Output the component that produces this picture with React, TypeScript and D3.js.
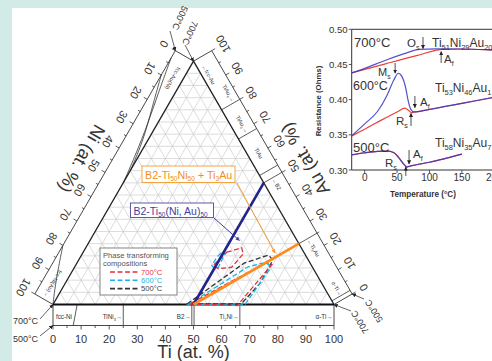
import * as d3 from "d3";

const FONT = "'Liberation Sans', Arial, Helvetica, sans-serif";

// ---------- ternary Ti-Ni-Au diagram, values in at. % ----------
const axisTicks = d3.range(0, 101, 10);
const minorTicks = d3.range(0, 101, 5);
const gridLevels = d3.range(5, 100, 5);

// [Ti, Au] pairs (Ni = 100 - Ti - Au)
const b2Line: [number, number][] = [[50, 0], [50, 50]];
const tieLine: [number, number][] = [[50, 0], [75, 25]];

const zone700a: [number, number][] = [[51.1, 21.5], [55.5, 23.3], [57.3, 20.8], [55.9, 15.3], [51.5, 14.7], [49.0, 16.0], [50.3, 19.4]];
const zone700b: [number, number][] = [[48.5, 0.2], [65.8, -0.4], [69.7, 16.4], [67.2, 17.2]];
const zone600a: [number, number][] = [[49.3, 21.5], [50.8, 20.8], [51.0, 18.1], [51.2, 15.3], [50.3, 14.7], [48.5, 16.0], [48.6, 19.4]];
const zone600b: [number, number][] = [[48.1, 0], [61.7, 15.5], [66.0, 17.0], [68.5, 16.5], [69.9, 14.7], [68.3, -0.2]];
const zone500b: [number, number][] = [[47.6, 0.2], [59.5, 17.0], [66.5, 20.3], [69.1, 18.3], [69.3, 8.7], [66.9, 0.3]];

// phase boundaries drawn in the isotherm strips (at. %)
const tiBounds = [25, 49.4, 50.2, 66.5];
const fccNiBound: [number, number][] = [[8.6, 0], [7.2, 1]]; // [Ti, strip fraction]
const auBounds = [80, 68, 53, 50, 25, 1.5];
const niSolvusA: [number, number][] = [[3, 1], [15, 0.72], [27, 0.4], [40, 0.14], [50, 0]];
const niSolvusB: [number, number][] = [[10, 1], [20, 0.66], [30, 0.3], [38, 0.1], [45, 0]];
const niFccBound: [number, number][] = [[80, 1], [90, 0.55], [97, 0.18], [100, 0]];

const bottomLabels = [
  { t: "fcc-Ni", v: 3.9, a: "middle" },
  { t: "TiNi{3}→", v: 24.6, a: "end" },
  { t: "B2→", v: 49.0, a: "end" },
  { t: "Ti{2}Ni→", v: 66.1, a: "end" },
  { t: "α-Ti→", v: 99.5, a: "end" },
];
const rightLabels = [
  { t: "←fcc-Au", v: 97, f: 0.3, a: "start" },
  { t: "TiAu{4}→", v: 80.6, f: 0.68, a: "end" },
  { t: "TiAu{2}→", v: 68.6, f: 0.5, a: "end" },
  { t: "TiAu", v: 60, f: 0.5, a: "middle" },
  { t: "←B2", v: 49.4, f: 0.5, a: "start" },
  { t: "←Ti{3}Au", v: 24.4, f: 0.5, a: "start" },
  { t: "α-Ti→", v: 1.8, f: 0.5, a: "end" },
];
const leftLabels = [
  { t: "fcc-Au(Ni)", v: 9, f: 0.45, a: "middle" },
  { t: "fcc-Ni(Au)→", v: 99, f: 0.5, a: "end" },
];

// ---------- inset: resistance vs temperature ----------
const r700Blue: [number, number][] = [[-20, 0.438], [0, 0.4445], [33.5, 0.4564], [60, 0.465], [85, 0.4716], [110, 0.4722], [150, 0.472], [200, 0.4705], [240, 0.469]];
const r700Red: [number, number][] = [[-20, 0.438], [33.5, 0.4513], [80, 0.4625], [120.8, 0.4716], [150, 0.472], [200, 0.4705], [240, 0.469]];
const r600Blue: [number, number][] = [[-20, 0.3485], [0, 0.3655], [20, 0.3835], [35, 0.407], [45, 0.428], [52, 0.4375], [58, 0.432], [63, 0.418], [67, 0.399], [71, 0.3865], [76, 0.3825], [100, 0.3862], [150, 0.3948], [200, 0.4035], [240, 0.41]];
const r600Red: [number, number][] = [[-20, 0.3485], [0, 0.358], [25, 0.3705], [50, 0.3825], [62, 0.388], [68, 0.3845], [72, 0.3815], [76, 0.3822], [100, 0.386], [150, 0.3946], [200, 0.4033], [240, 0.41]];
const r500Blue: [number, number][] = [[-20, 0.3215], [0, 0.3245], [20, 0.3266], [35, 0.327], [45, 0.3245], [52, 0.318], [58, 0.3105], [62, 0.3065], [65, 0.3042], [70, 0.3055], [80, 0.3075], [100, 0.311], [125, 0.3165], [150, 0.3225]];
const r500Red: [number, number][] = [[-20, 0.3215], [0, 0.3243], [20, 0.3264], [35, 0.3268], [45, 0.3248], [52, 0.3188], [58, 0.3112], [62, 0.307], [65, 0.3045], [70, 0.3056], [80, 0.3075], [100, 0.311], [125, 0.3165], [150, 0.3225]];
const insetYTicks = [0.3, 0.35, 0.4, 0.45, 0.5];
const insetXTicks = [0, 50, 100, 150, 200];

// geometry
const SQ = Math.sqrt(3) / 2;
const SIDE = 281;
const STRIP = 21;
const LABEL = 34;
const tx = d3.scaleLinear([0, 100], [53, 53 + SIDE]);
const ty = d3.scaleLinear([0, 100], [304.5, 304.5 - SIDE * SQ]);
const proj = (ti: number, au: number): [number, number] => [tx(ti + au / 2), ty(au)];

const sides: Record<string, { at: (v: number) => [number, number]; n: [number, number]; rot: number }> = {
  bottom: { at: (v) => proj(v, 0), n: [0, 1], rot: 0 },
  left: { at: (v) => proj(0, 100 - v), n: [-SQ, -0.5], rot: 120 },
  right: { at: (v) => proj(100 - v, v), n: [SQ, -0.5], rot: -120 },
};
const sp = (s: string, v: number, d: number): [number, number] => {
  const [x, y] = sides[s].at(v);
  const [nx, ny] = sides[s].n;
  return [x + nx * d, y + ny * d];
};
const stripLine = d3.line<[number, number]>().curve(d3.curveBasis);

const ix = d3.scaleLinear([-20, 250], [351.7, 526.7]);
const iy = d3.scaleLinear([0.3, 0.5], [170, 29.3]);
const rLine = d3
  .line<[number, number]>()
  .x((d) => ix(d[0]))
  .y((d) => iy(d[1]))
  .curve(d3.curveMonotoneX);

const zonePath = (pts: [number, number][]) => d3.line()(pts.map(([t, a]) => proj(t, a))) + "Z";

function Chem({ x, y, text, size, fill = "#333", anchor = "start", transform, weight }: any) {
  const parts = text.split(/(\{[^}]*\})/).filter(Boolean);
  let sub = false;
  const kids = parts.map((p: string, i: number) => {
    const isSub = p.startsWith("{");
    const shift = size * 0.28;
    const dy = isSub && !sub ? shift : !isSub && sub ? -shift : 0;
    sub = isSub;
    return (
      <tspan key={i} dy={dy} fontSize={isSub ? size * 0.62 : size}>
        {isSub ? p.slice(1, -1) : p}
      </tspan>
    );
  });
  return (
    <text x={x} y={y} fontSize={size} fill={fill} textAnchor={anchor} transform={transform} fontWeight={weight}>
      {kids}
    </text>
  );
}

function Arrow({ from, to, color = "#222", w = 0.8, id = "ahK" }: any) {
  return <line x1={from[0]} y1={from[1]} x2={to[0]} y2={to[1]} stroke={color} strokeWidth={w} markerEnd={`url(#${id})`} />;
}

function SideAxis({ s }: { s: string }) {
  const [a0, a1] = [sp(s, 0, STRIP), sp(s, 100, STRIP)];
  const rot = sides[s].rot;
  return (
    <g>
      <line x1={a0[0]} y1={a0[1]} x2={a1[0]} y2={a1[1]} stroke="#333" strokeWidth={0.9} />
      {[0, 100].map((v) => {
        const p = sp(s, v, 0);
        const q = sp(s, v, STRIP);
        return <line key={v} x1={p[0]} y1={p[1]} x2={q[0]} y2={q[1]} stroke="#333" strokeWidth={0.9} />;
      })}
      {minorTicks.map((v) => {
        const p = sp(s, v, STRIP);
        const q = sp(s, v, STRIP + (v % 10 === 0 ? 4 : 2.5));
        return <line key={v} x1={p[0]} y1={p[1]} x2={q[0]} y2={q[1]} stroke="#333" strokeWidth={0.8} />;
      })}
      {axisTicks.map((v) => {
        const p = sp(s, v, LABEL);
        return (
          <text key={v} x={p[0]} y={p[1]} fontSize={11} fill="#333" textAnchor="middle" dominantBaseline="central"
            transform={`rotate(${rot},${p[0]},${p[1]})`}>
            {v}
          </text>
        );
      })}
    </g>
  );
}

export default function App() {
  const apex = proj(0, 100);
  const bl = proj(0, 0);
  const br = proj(100, 0);
  const grid: [number, number][][] = [];
  gridLevels.forEach((v) => {
    grid.push([proj(0, v), proj(100 - v, v)]);
    grid.push([proj(v, 0), proj(v, 100 - v)]);
    grid.push([proj(100 - v, 0), proj(0, 100 - v)]);
  });
  const niTitle = sp("left", 50, 48);
  const auTitle = sp("right", 50, 48);

  return (
    <svg width={492} height={361} style={{ position: "absolute", left: 0, top: 0 }} fontFamily={FONT}>
      <defs>
        {[
          ["ahK", "#222"],
          ["ahO", "#f39a2e"],
          ["ahB", "#3a3a9a"],
        ].map(([id, c]) => (
          <marker key={id} id={id} viewBox="0 0 6 6" refX={5.5} refY={3} markerWidth={4} markerHeight={4} markerUnits="userSpaceOnUse" orient="auto">
            <path d="M0,0L6,3L0,6z" fill={c} />
          </marker>
        ))}
      </defs>
      <rect width={492} height={361} fill="#d3ebe6" />
      <rect x={12} y={8} width={480} height={353} fill="#fff" />

      {/* grid */}
      <g stroke="#cdcdcd" strokeWidth={0.7}>
        {grid.map((g, i) => (
          <line key={i} x1={g[0][0]} y1={g[0][1]} x2={g[1][0]} y2={g[1][1]} />
        ))}
      </g>

      {/* isotherm strips + axes */}
      <SideAxis s="bottom" />
      <SideAxis s="left" />
      <SideAxis s="right" />
      <g stroke="#333" strokeWidth={0.8} fill="none">
        {tiBounds.map((v) => {
          const p = sp("bottom", v, 0);
          const q = sp("bottom", v, STRIP);
          return <line key={v} x1={p[0]} y1={p[1]} x2={q[0]} y2={q[1]} />;
        })}
        <path d={stripLine(fccNiBound.map(([v, f]) => sp("bottom", v, f * STRIP)))!} />
        {auBounds.map((v) => {
          const p = sp("right", v, 0);
          const q = sp("right", v, STRIP);
          return <line key={v} x1={p[0]} y1={p[1]} x2={q[0]} y2={q[1]} />;
        })}
        {[niSolvusA, niSolvusB, niFccBound].map((c, i) => (
          <path key={i} d={stripLine(c.map(([v, f]) => sp("left", v, f * STRIP)))!} />
        ))}
      </g>
      {bottomLabels.map((l) => {
        const p = sp("bottom", l.v, 12.5);
        return <Chem key={l.t} x={p[0]} y={p[1] + 2} text={l.t} size={6.3} anchor={l.a} />;
      })}
      {rightLabels.map((l) => {
        const p = sp("right", l.v, l.f * STRIP);
        return <Chem key={l.t} x={p[0]} y={p[1]} text={l.t} size={5.6} anchor={l.a} transform={`rotate(60,${p[0]},${p[1]}) translate(0,2)`} />;
      })}
      {leftLabels.map((l) => {
        const p = sp("left", l.v, l.f * STRIP);
        return <Chem key={l.t} x={p[0]} y={p[1]} text={l.t} size={5.6} anchor={l.a} transform={`rotate(120,${p[0]},${p[1]}) translate(0,2)`} />;
      })}

      {/* triangle frame */}
      <path d={`M${bl}L${apex}L${br}`} fill="none" stroke="#222" strokeWidth={1.3} />
      <line x1={bl[0]} y1={bl[1]} x2={br[0]} y2={br[1]} stroke="#111" strokeWidth={2} />

      {/* axis titles */}
      <text x={niTitle[0]} y={niTitle[1]} fontSize={18} fill="#333" textAnchor="middle" dominantBaseline="central"
        transform={`rotate(120,${niTitle[0]},${niTitle[1]})`}>Ni (at. %)</text>
      <text x={auTitle[0]} y={auTitle[1]} fontSize={18} fill="#333" textAnchor="middle" dominantBaseline="central"
        transform={`rotate(-120,${auTitle[0]},${auTitle[1]})`}>Au (at. %)</text>
      <text x={tx(50)} y={358} fontSize={18} fill="#333" textAnchor="middle">Ti (at. %)</text>

      {/* corner isotherm labels */}
      <g fontSize={9} fill="#333">
        <text x={13} y={324}>700°C</text>
        <text x={13} y={342}>500°C</text>
        <text x={180} y={18} textAnchor="middle" dominantBaseline="central" transform="rotate(115,180,18)">500°C</text>
        <text x={190} y={33} textAnchor="middle" dominantBaseline="central" transform="rotate(115,190,33)">700°C</text>
        <text x={374} y={311} textAnchor="middle" dominantBaseline="central" transform="rotate(-122,374,311)">500°C</text>
        <text x={360} y={322} textAnchor="middle" dominantBaseline="central" transform="rotate(-122,360,322)">700°C</text>
      </g>
      <Arrow from={[40, 319]} to={sp("bottom", 0, 0)} w={0.7} />
      <Arrow from={[40, 336]} to={sp("bottom", 0, STRIP)} w={0.7} />
      <Arrow from={[185, 45]} to={apex} w={0.7} />
      <Arrow from={[170, 31]} to={sp("left", 0, STRIP)} w={0.7} />
      <Arrow from={[364, 299]} to={sp("right", 0, STRIP)} w={0.7} />
      <Arrow from={[351, 311]} to={br} w={0.7} />

      {/* phase transforming composition zones */}
      <g fill="none" strokeWidth={1.3} strokeDasharray="5 2.5">
        <path d={zonePath(zone500b)} stroke="#333" />
        <path d={zonePath(zone600a)} stroke="#19b5e6" />
        <path d={zonePath(zone600b)} stroke="#19b5e6" />
        <path d={zonePath(zone700a)} stroke="#e5303f" />
        <path d={zonePath(zone700b)} stroke="#e5303f" />
      </g>

      {/* B2 and B2 + Ti3Au lines */}
      <path d={d3.line()(b2Line.map(([t, a]) => proj(t, a)))!} stroke="#23238c" strokeWidth={2.6} />
      <path d={d3.line()(tieLine.map(([t, a]) => proj(t, a)))!} stroke="#ff8a1c" strokeWidth={2.6} />

      {/* annotation boxes */}
      <rect x={142} y={166} width={93} height={16.5} fill="#fff" stroke="#f39a2e" strokeWidth={0.9} />
      <Chem x={145} y={178.5} text="B2-Ti{50}Ni{50} + Ti{3}Au" size={10.7} fill="#ef8f22" />
      <Arrow from={[237, 183]} to={proj(68.4, 21.2)} color="#f39a2e" w={1} id="ahO" />
      <rect x={130.5} y={203} width={83} height={14.5} fill="#fff" stroke="#4a4aa0" strokeWidth={0.9} />
      <Chem x={133.5} y={214.5} text="B2-Ti{50}(Ni, Au){50}" size={10.5} fill="#3f3f9c" />
      <Arrow from={[214, 218]} to={proj(53.2, 26.3)} color="#3a3a9a" w={1} id="ahB" />

      {/* legend */}
      <rect x={100} y={248} width={77} height={47} fill="#fff" stroke="#666" strokeWidth={0.8} />
      <text x={103} y={257.5} fontSize={7.6} fill="#555">Phase transforming</text>
      <text x={103} y={266} fontSize={7.6} fill="#555">compositions</text>
      {[
        ["700°C", "#e5303f"],
        ["600°C", "#19b5e6"],
        ["500°C", "#333"],
      ].map(([t, c], i) => (
        <g key={t}>
          <line x1={110} x2={140} y1={272 + i * 8.3} y2={272 + i * 8.3} stroke={c} strokeWidth={1.6} strokeDasharray="5 2.5" />
          <text x={141} y={274.8 + i * 8.3} fontSize={7.6} fill={c === "#333" ? "#444" : c}>{t}</text>
        </g>
      ))}

      {/* ---------- inset ---------- */}
      <g>
        <path d={`M492,${iy(0.5)}H${ix(-20)}V${iy(0.3)}H492`} fill="none" stroke="#333" strokeWidth={1} />
        {insetYTicks.map((v) => (
          <g key={v}>
            <line x1={ix(-20) - 3} x2={ix(-20)} y1={iy(v)} y2={iy(v)} stroke="#333" strokeWidth={0.8} />
            <text x={ix(-20) - 4} y={iy(v)} fontSize={9.6} fill="#333" textAnchor="end" dominantBaseline="central">
              {v.toFixed(2)}
            </text>
          </g>
        ))}
        {insetXTicks.map((v) => (
          <g key={v}>
            <line x1={ix(v)} x2={ix(v)} y1={iy(0.3)} y2={iy(0.3) + 3} stroke="#333" strokeWidth={0.8} />
            <text x={ix(v)} y={iy(0.3) + 11} fontSize={10} fill="#333" textAnchor="middle">{v}</text>
          </g>
        ))}
        <text x={318} y={101} fontSize={7.8} fontWeight="bold" fill="#333" textAnchor="middle" dominantBaseline="central"
          transform="rotate(-90,318,101)">Resistance (Ohms)</text>
        <text x={423} y={197} fontSize={8.2} fontWeight="bold" fill="#333" textAnchor="middle">Temperature (°C)</text>

        <g fill="none" strokeWidth={1.2}>
          {[r700Red, r600Red, r500Red].map((d, i) => (
            <path key={i} d={rLine(d)!} stroke="#e8403a" />
          ))}
          {[r700Blue, r600Blue, r500Blue].map((d, i) => (
            <path key={i} d={rLine(d)!} stroke="#3434c4" strokeOpacity={0.85} />
          ))}
        </g>

        <text x={354} y={47} fontSize={13} fill="#333">700°C</text>
        <text x={353} y={90} fontSize={12.5} fill="#333">600°C</text>
        <text x={353} y={152} fontSize={13} fill="#333">500°C</text>
        <Chem x={432} y={47} text="Ti{51}Ni{29}Au{20}" size={12} />
        <Chem x={435} y={92} text="Ti{53}Ni{46}Au{1}" size={12} />
        <Chem x={435} y={147} text="Ti{58}Ni{35}Au{7}" size={12} />

        <Chem x={407} y={47} text="O{s}" size={11.5} />
        <Arrow from={[ix(90), 37]} to={[ix(90), iy(0.4725)]} />
        <Arrow from={[ix(118), 63]} to={[ix(118), iy(0.4685)]} />
        <Chem x={444} y={63} text="A{f}" size={11.5} />
        <Chem x={378} y={75.5} text="M{s}" size={11} />
        <Arrow from={[ix(47), 63]} to={[ix(47), iy(0.4375)]} />
        <Arrow from={[ix(77.5), 96]} to={[ix(77.5), iy(0.3885)]} />
        <Chem x={420} y={106} text="A{f}" size={11.5} />
        <Chem x={396} y={125} text="R{s}" size={11.5} />
        <Arrow from={[ix(71.5), 126]} to={[ix(71.5), iy(0.3805)]} />
        <Chem x={385} y={167} text="R{s}" size={11.5} />
        <Arrow from={[ix(63.5), 176]} to={[ix(63.5), iy(0.3045)]} />
        <Arrow from={[ix(68.5), 150]} to={[ix(68.5), iy(0.3085)]} />
        <Chem x={413} y={158} text="A{f}" size={11.5} />
      </g>
    </svg>
  );
}
